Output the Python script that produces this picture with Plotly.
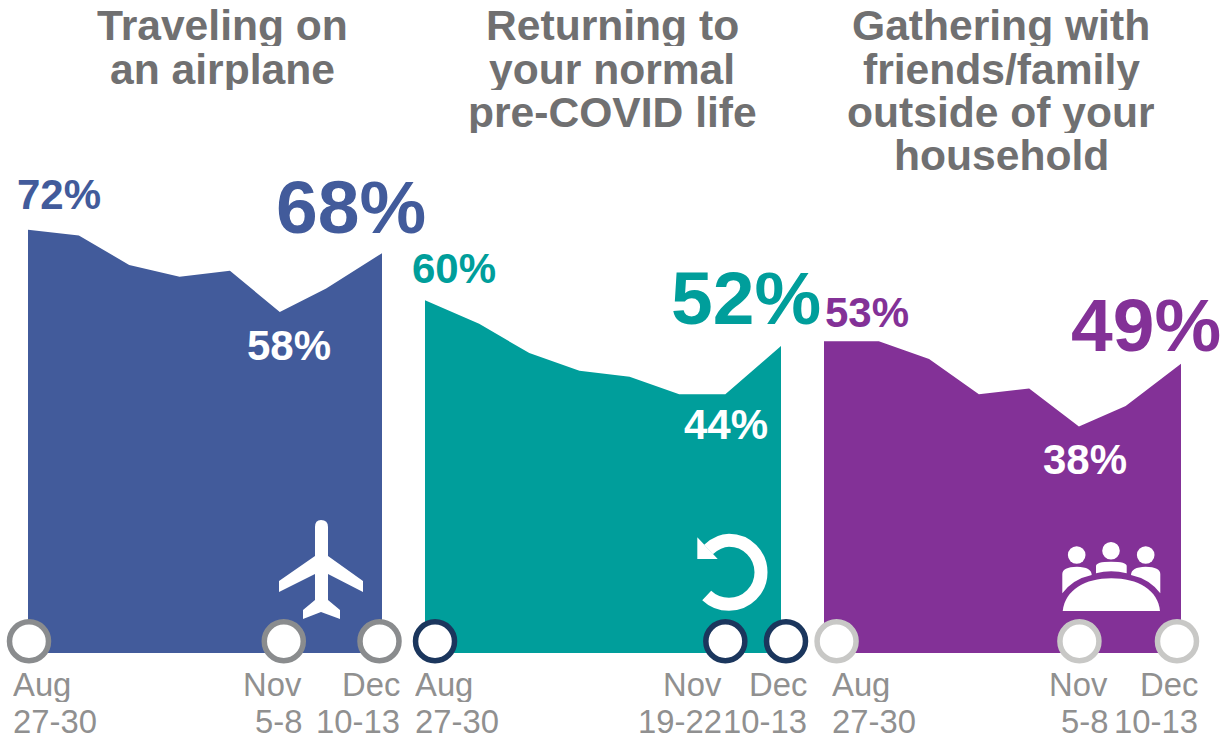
import plotly.graph_objects as go

FONT = "Liberation Sans, Arial, sans-serif"
W, H = 1220, 734

# Survey waves on an index scale (one unit = one wave), read per panel
travel_wave = [0, 1.02, 2.03, 3.04, 4.05, 5.05, 5.98, 7.1]
normal_wave = [0, 1.08, 2.08, 3.08, 4.08, 5.07, 5.99, 7.1]
gather_wave = [0, 1.09, 2.09, 3.08, 4.08, 5.07, 6.0, 7.1]
travel_values = [72, 71, 66, 64, 65, 58, 62, 68]
normal_values = [60, 56, 51, 48, 47, 44, 44, 52.2]
gather_values = [53, 53, 50, 44, 45, 38.5, 42, 49.2]

colors = ["#425B9B", "#009E9B", "#833197"]
ring_colors = ["#8A8C8E", "#1B365D", "#C8C8C6"]
ring_wave = [[0.02, 5.13, 7.05], [0.2, 5.99, 7.2], [0.25, 5.08, 7.02]]
ring_level = [2, 2, 2]

titles = [
    ["Traveling on", "an airplane"],
    ["Returning to", "your normal", "pre-COVID life"],
    ["Gathering with", "friends/family", "outside of your", "household"],
]
title_centers = [222, 612, 1001]
title_rows = [25, 69, 112, 155]

value_labels = ["72%", "68%", "58%", "60%", "52%", "44%", "53%", "49%", "38%"]
label_x = [58.5, 350.5, 288.5, 453.5, 745.5, 725.5, 866.5, 1145.5, 1084.5]
label_y = [194.5, 207, 345, 268, 298, 424, 312, 325, 459]
label_size = [42, 75, 42, 42, 75, 42, 42, 75, 42]
label_col = [colors[0], colors[0], "white", colors[1], colors[1], "white", colors[2], colors[2], "white"]

date_top = ["Aug", "Nov", "Dec", "Aug", "Nov", "Dec", "Aug", "Nov", "Dec"]
date_bot = ["27-30", "5-8", "10-13", "27-30", "19-22", "10-13", "27-30", "5-8", "10-13"]
date_edge = [11, 304, 402, 413, 724, 809, 830, 1110, 1200]
date_anchor = ["left", "right", "right", "left", "right", "right", "left", "right", "right"]

panel_left = [28, 425, 824]
panel_right = [382, 781, 1181]
px_per_unit = 5.88
base_px = 653
wave_end = 7.1
wave_pad = 0.5

fig = go.Figure()
y_range = [-(H - base_px) / px_per_unit, base_px / px_per_unit]

series = [(travel_wave, travel_values), (normal_wave, normal_values), (gather_wave, gather_values)]
for i, (wx, vals) in enumerate(series):
    ax = "" if i == 0 else str(i + 1)
    fig.add_trace(go.Scatter(x=wx, y=vals, mode="lines", fill="tozeroy",
                             fillcolor=colors[i], line=dict(color=colors[i], width=0),
                             xaxis="x" + ax, yaxis="y", hoverinfo="skip", showlegend=False))
    unit = (panel_right[i] - panel_left[i]) / wave_end
    fig.update_layout({
        "xaxis" + ax: dict(domain=[(panel_left[i] - wave_pad * unit) / W, (panel_right[i] + wave_pad * unit) / W],
                           range=[-wave_pad, wave_end + wave_pad],
                           visible=False, anchor="y", fixedrange=True)})
for i in range(3):
    ax = "" if i == 0 else str(i + 1)
    fig.add_trace(go.Scatter(x=ring_wave[i], y=[ring_level[i]] * 3, mode="markers", cliponaxis=False,
                             marker=dict(size=39, color="white", line=dict(color=ring_colors[i], width=5.5)),
                             xaxis="x" + ax, yaxis="y", hoverinfo="skip", showlegend=False))

fig.add_trace(go.Scatter(x=[0], y=[0], mode="markers", marker=dict(opacity=0), xaxis="x4", yaxis="y4",
                         hoverinfo="skip", showlegend=False))

ann = []
for lines, cx in zip(titles, title_centers):
    for line, row in zip(lines, title_rows):
        ann.append(dict(x=cx, y=row, xref="x4", yref="y4", text="<b>%s</b>" % line, showarrow=False,
                        height=42, xanchor="center", yanchor="middle",
                        font=dict(family=FONT, size=42.6, color="#707071")))
for t, x, y, s, c in zip(value_labels, label_x, label_y, label_size, label_col):
    ann.append(dict(x=x, y=y, xref="x4", yref="y4", text="<b>%s</b>" % t, showarrow=False,
                    xanchor="center", yanchor="middle", font=dict(family=FONT, size=s, color=c)))
for top, bot, e, a in zip(date_top, date_bot, date_edge, date_anchor):
    for t, y, h in ((top, 684, 36), (bot, 721, 24)):
        ann.append(dict(x=e, y=y, xref="x4", yref="y4", text=t, showarrow=False, height=h,
                        xanchor=a, yanchor="middle", font=dict(family=FONT, size=32.8, color="#909090")))

def solid(path):
    return dict(type="path", xref="x4", yref="y4", path=path, fillcolor="white",
                line=dict(width=0), layer="above")

def dot(cx, cy, r):
    return dict(type="circle", xref="x4", yref="y4", x0=cx - r, x1=cx + r, y0=cy - r, y1=cy + r,
                fillcolor="white", line=dict(width=0), layer="above")

shapes = [
    # airplane
    solid("M315 527 Q315 520 321 520 Q328 520 328 527 V556 L363 581 V592 L328 574 V600 L340 610 V619 "
          "L321 612 L303 619 V610 L315 600 V574 L279 592 V581 L315 556 Z"),
    # return arrow
    dict(type="path", xref="x4", yref="y4",
         path="M706.7 595.5 C712.7 601.2 720.7 604.3 729 604.3 C746.7 604.3 761 590 761 572.3 "
              "C761 554.6 746.7 540.3 729 540.3 C721.1 540.3 714.4 544.2 708.5 549.5",
         line=dict(color="white", width=13), fillcolor="rgba(0,0,0,0)", layer="above"),
    solid("M697.3 537.3 V559 H717.7 Z"),
    # meeting group
    dot(1076.7, 555, 8.8), dot(1111, 550.7, 8.8), dot(1145.7, 555, 8.8),
    solid("M1096 573.3 V566 Q1096 561.7 1111 561.7 Q1126.7 561.7 1126.7 566 V573.3 Q1111 569 1096 573.3 Z"),
    solid("M1062.3 593.3 V574 Q1062.3 567 1077 566.7 Q1091.7 567 1091.7 575 Q1073 579 1062.3 593.3 Z"),
    solid("M1160.3 593.3 V574 Q1160.3 567 1145.6 566.7 Q1131 567 1131 575 Q1149.6 579 1160.3 593.3 Z"),
    solid("M1062.7 611 C1065 590 1085 578.3 1111.3 578.3 C1138 578.3 1158 590 1160 611 Z"),
]

fig.update_layout(
    width=W, height=H, margin=dict(l=0, r=0, t=0, b=0), paper_bgcolor="white", plot_bgcolor="rgba(0,0,0,0)",
    showlegend=False,
    yaxis=dict(domain=[0, 1], range=y_range, visible=False, fixedrange=True),
    xaxis4=dict(domain=[0, 1], range=[0, W], visible=False, anchor="y4", fixedrange=True),
    yaxis4=dict(domain=[0, 1], range=[H, 0], visible=False, anchor="x4", overlaying="y", fixedrange=True),
    annotations=ann, shapes=shapes,
)
fig.write_html("out.html", config=dict(displayModeBar=False),
               post_script="document.body.style.margin='0';document.body.style.overflow='hidden';window.dispatchEvent(new Event('resize'));")
